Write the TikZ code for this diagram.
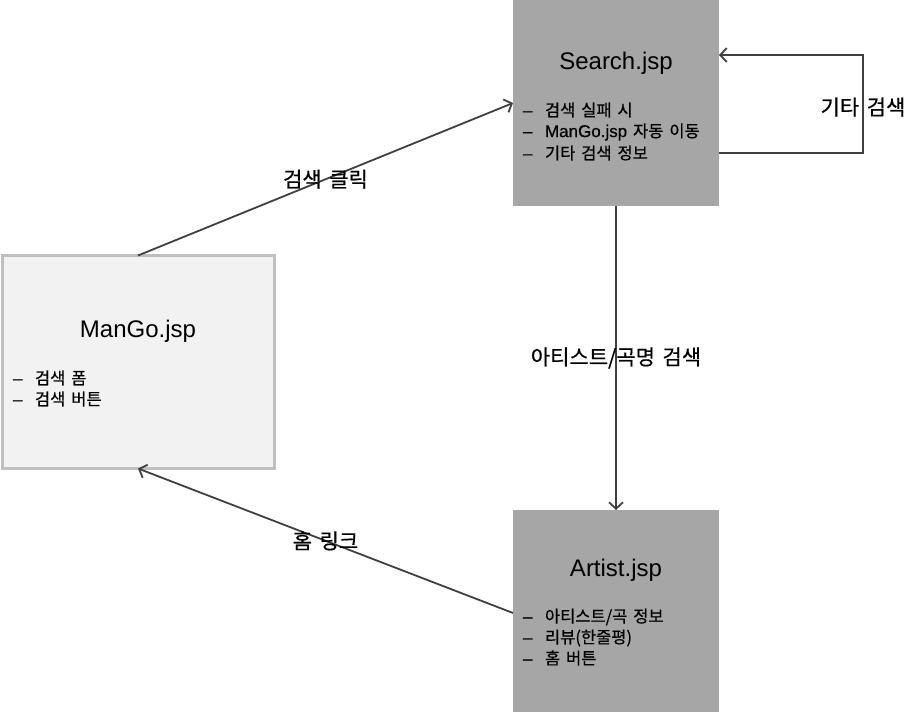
\documentclass[tikz,border=0pt]{standalone}
\usepackage{fontspec}
\setmainfont[WordSpace=1.6, FakeBold=0.6]{Noto Sans CJK KR}
\newfontfamily\latin{Liberation Sans}
\newfontfamily\latinitem[FakeBold=0.6]{Liberation Sans}
\usetikzlibrary{arrows.meta}

\definecolor{pagegray}{HTML}{A6A6A6}
\definecolor{homegray}{HTML}{F2F2F2}
\definecolor{rimgray}{HTML}{BFBFBF}
\definecolor{linkgray}{HTML}{404040}

\newcommand{\titlefont}{\latin\fontsize{24}{28}\selectfont}
\newcommand{\itemfont}{\fontsize{16.5}{19}\selectfont}
\newcommand{\linkfont}{\fontsize{21}{25}\selectfont}
\newcommand{\dashitem}[1]{\makebox[22pt][l]{\latinitem\fontsize{17}{19}\selectfont –}#1}

\begin{document}
\begin{tikzpicture}[x=1pt,y=-1pt]
            \useasboundingbox (0,0) rectangle (922,712);
            \begin{scope}[every node/.style={inner sep=0pt, outer sep=0pt}]
                \node[fill=pagegray, minimum width=206pt, minimum height=206pt] (search) at (616,103) {};
                \node[fill=homegray, draw=rimgray, line width=3pt, minimum width=272pt, minimum height=213pt] (mango) at (138,362) {};
                \node[fill=pagegray, minimum width=206pt, minimum height=206pt] (artist) at (616,613) {};

                \node[font=\titlefont] (searchtitle) at (616,63) {Search.jsp};
                \node[font=\itemfont, anchor=west] (search1) at (523,110) {\dashitem{검색 실패 시}};
                \node[font=\itemfont, anchor=west] (search2) at (523,132) {\dashitem{{\latinitem\fontsize{17}{19}\selectfont ManGo.jsp} 자동 이동}};
                \node[font=\itemfont, anchor=west] (search3) at (523,153) {\dashitem{기타 검색 정보}};

                \node[font=\titlefont] (mangotitle) at (138,331) {ManGo.jsp};
                \node[font=\itemfont, anchor=west] (mango1) at (13,378) {\dashitem{검색 폼}};
                \node[font=\itemfont, anchor=west] (mango2) at (13,399) {\dashitem{검색 버튼}};

                \node[font=\titlefont] (artisttitle) at (616,570) {Artist.jsp};
                \node[font=\itemfont, anchor=west] (artist1) at (523,617) {\dashitem{아티스트/곡 정보}};
                \node[font=\itemfont, anchor=west] (artist2) at (523,638) {\dashitem{리뷰(한줄평)}};
                \node[font=\itemfont, anchor=west] (artist3) at (523,658) {\dashitem{홈 버튼}};

                \coordinate (loopbot) at (863,153);
                \coordinate (looptop) at (863,55);
            \end{scope}
            \begin{scope}[every edge/.style={draw=linkgray,line width=1.8pt},
                          every node/.style={font=\linkfont, inner sep=0pt},
                          >={Straight Barb[length=6.5pt,width=14pt]}]
                \path [->] (mango.north) edge node {검색 클릭} (search.west);
                \path [->] (search.south) edge node {아티스트/곡명 검색} (artist.north);
                \path [->] (artist.west) edge node {홈 링크} (mango.south);

                \draw [->, draw=linkgray, line width=1.8pt] ([yshift=-50pt]search.east) -- (loopbot) -- (looptop) -- ([yshift=48pt]search.east);
                \node (looplabel) at (863,107) {기타 검색};
            \end{scope}
        \end{tikzpicture}
\end{document}
